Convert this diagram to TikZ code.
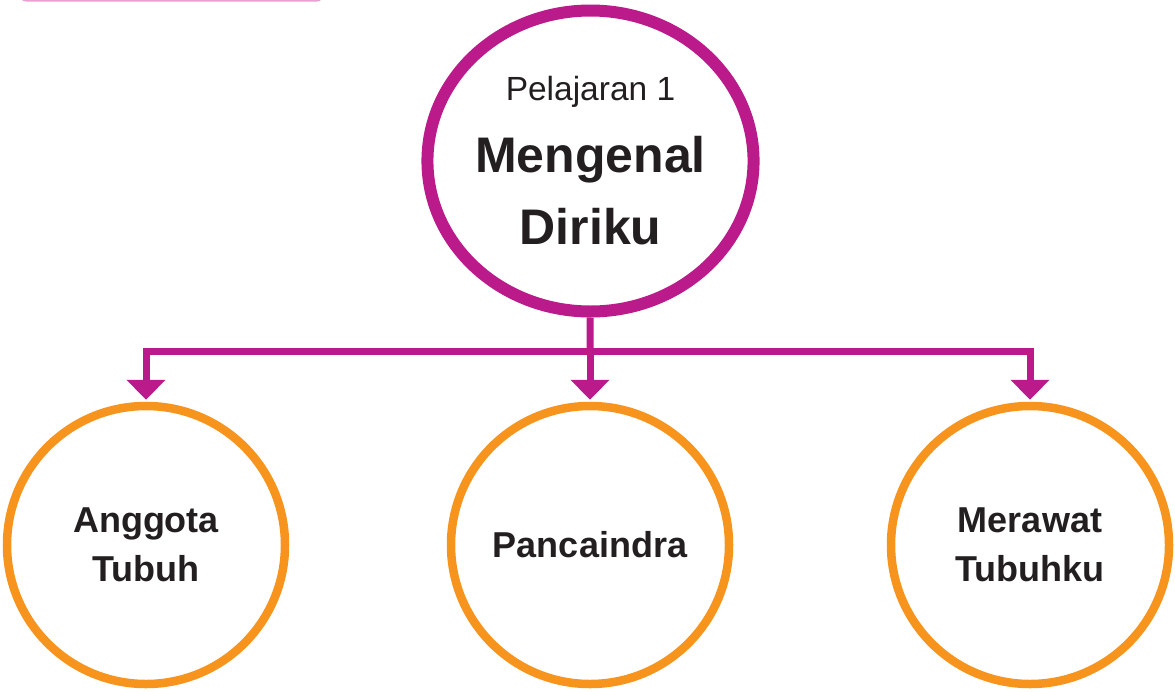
\documentclass[tikz,border=0pt]{standalone}
\usepackage{fontspec}
\setmainfont{Liberation Sans}
\usetikzlibrary{arrows.meta,shapes.geometric}
\definecolor{lessonpink}{HTML}{BB1A8B}
\definecolor{tabpink}{HTML}{E6A0D2}
\definecolor{topicorange}{HTML}{F7941D}
\definecolor{textdark}{HTML}{231F20}

\begin{document}
\begin{tikzpicture}[x=1pt, y=-1pt,
        topic/.style={circle, draw=topicorange, line width=8.5pt, minimum size=278pt, inner sep=0pt,
            align=center, text=textdark, font=\bfseries\fontsize{36}{49}\selectfont},
        link/.style={draw=lessonpink, line width=7pt},
        drop/.style={link, -{Triangle[width=38pt,length=20pt]}, shorten >=2pt}]
        \useasboundingbox (0,0) rectangle (1175,691);
        \fill[tabpink, rounded corners=6pt] (20,-20) rectangle (323,1.5);
        \node [ellipse, draw=lessonpink, line width=12pt, minimum width=313pt, minimum height=301pt, inner sep=0pt,
            align=center, text=textdark, font=\bfseries\fontsize{50}{72}\selectfont] (lesson) at (590.5,161)
            {{\mdseries\fontsize{33.5}{72}\selectfont Pelajaran 1}\\Mengenal\\Diriku};
        \node [topic] (anggota) at (146,545) {Anggota\\Tubuh};
        \node [topic] (panca) at (590,545) {Pancaindra};
        \node [topic] (rawat) at (1030,545) {Merawat\\Tubuhku};
        \coordinate (split) at (590,351);
        \draw[link] (lesson) -- (split);
        \draw[drop] (split) -| (anggota);
        \draw[drop] (split) -- (panca);
        \draw[drop] (split) -| (rawat);
    \end{tikzpicture}
\end{document}
